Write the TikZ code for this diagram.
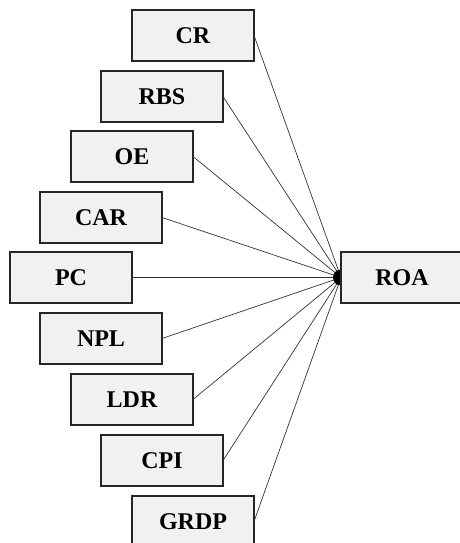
\documentclass[tikz,border=0pt]{standalone}
\usepackage{fontspec}
\setmainfont{Liberation Serif}
\usepackage{xcolor}
\usetikzlibrary{positioning}
\definecolor{BoxFill}{HTML}{F1F1F1}
\definecolor{BoxLine}{HTML}{262626}
\definecolor{LinkGray}{HTML}{333333}
\tikzset{
  varbox/.style={draw=BoxLine, fill=BoxFill, line width=1.5pt, minimum width=122pt, minimum height=51pt, inner sep=0pt, outer sep=0pt, font=\fontsize{24}{27}\selectfont\bfseries},
  link/.style={draw=LinkGray, line width=0.7pt}
}
\begin{document}
\begin{tikzpicture}[
    x=1pt, y=-1pt,
    node distance=10pt
]
\useasboundingbox (0,0) rectangle (459,543);

\node[varbox] (cr) at (193,35.5) {CR};
\node[varbox, below=of cr, xshift=-31pt] (rbs) {RBS};
\node[varbox, below=9pt of rbs, xshift=-30pt] (oe) {OE};
\node[varbox, below=of oe, xshift=-31pt] (car) {CAR};
\node[varbox, below=9pt of car, xshift=-30pt] (pc) {PC};
\node[varbox, below=of pc, xshift=30pt] (npl) {NPL};
\node[varbox, below=of npl, xshift=31pt] (ldr) {LDR};
\node[varbox, below=of ldr, xshift=30pt] (cpi) {CPI};
\node[varbox, below=of cpi, xshift=31pt] (grdp) {GRDP};

% hub where all links meet
\coordinate[right=209pt of pc] (hub);

\foreach \v in {cr,rbs,oe,car,pc,npl,ldr,cpi,grdp}
  \draw[link] (\v.east) -- (hub);
\fill (hub) circle (8pt);

\node[varbox, right=0pt of hub] (roa) {ROA};
\end{tikzpicture}
\end{document}
